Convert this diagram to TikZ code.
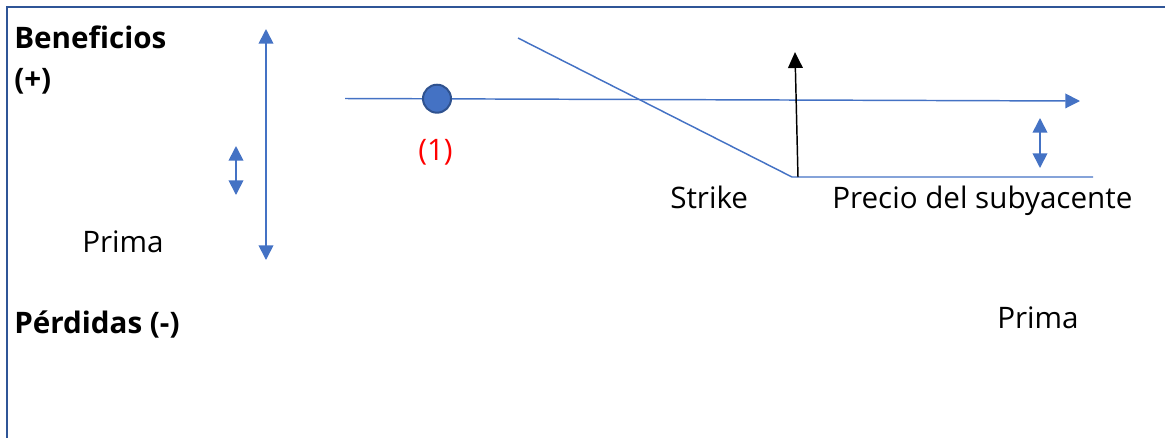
\documentclass[tikz,border=0pt]{standalone}
\usepackage{fontspec}
\setmainfont{Open Sans}
\usetikzlibrary{arrows.meta}
\definecolor{lineblue}{HTML}{4472C4}
\definecolor{frameblue}{HTML}{2F5597}
\definecolor{dotedge}{HTML}{2F528F}
\begin{document}
\begin{tikzpicture}[
      x=0.75pt, y=-0.75pt,
      every node/.style={font=\fontsize{22.2}{26}\selectfont, inner sep=0pt},
      txt/.style={anchor=base west},
      headtxt/.style={anchor=base west, font=\fontsize{22.2}{26}\selectfont\bfseries},
      payoff/.style={lineblue, line width=1.1pt},
      priceaxis/.style={lineblue, line width=1.1pt, -{Triangle[length=11pt, width=11pt]}},
      spanarrow/.style={lineblue, line width=1.3pt,
        {Triangle[length=11pt, width=11pt]}-{Triangle[length=11pt, width=11pt]}},
      strikearrow/.style={black, line width=1.1pt, -{Triangle[length=12pt, width=11pt]}},
    ]
    \useasboundingbox (0,0) rectangle (1165,437);
    % Frame (top and left only)
    \draw[frameblue, line width=1.9pt] (7,440) -- (7,7) -- (1168,7);
    % Axis labels
    \node[headtxt] (ben)  at (14,48)  {Beneficios};
    \node[headtxt] (plus) at (14,89)  {(+)};
    \node[headtxt] (perd) at (14,333) {Pérdidas (-)};
    % Spans at the left
    \coordinate (r0) at (266,29);
    \coordinate (r1) at (266,260);
    \draw[spanarrow] (r0) -- (r1);
    \coordinate (s0) at (236,146);
    \coordinate (s1) at (236,195);
    \draw[spanarrow] (s0) -- (s1);
    \node[txt] (primaL) at (82,252) {Prima};
    % Price axis with point (1)
    \coordinate (h0) at (345,98.5);
    \coordinate (h1) at (1080,101);
    \draw[priceaxis] (h0) -- (h1);
    \node[circle, minimum size=21pt, fill=lineblue, draw=dotedge, line width=1.5pt]
      (dot) at (437,98.7) {};
    \node[txt, text=red] (one) at (418,160) {(1)};
    % Payoff line
    \coordinate (p0) at (518,38);
    \coordinate (strike) at (792,177);
    \coordinate (p1) at (1093,177);
    \draw[payoff] (p0) -- (strike) -- (p1);
    \coordinate (u0) at (798,177);
    \coordinate (u1) at (795,52);
    \draw[strikearrow] (u0) -- (u1);
    \coordinate (q0) at (1040,118);
    \coordinate (q1) at (1040,168);
    \draw[spanarrow] (q0) -- (q1);
    % Labels on the axis
    \node[txt] (stk)    at (670,208) {Strike};
    \node[txt] (precio) at (832,208) {Precio del subyacente};
    \node[txt] (primaR) at (997,328) {Prima};
  \end{tikzpicture}
\end{document}
